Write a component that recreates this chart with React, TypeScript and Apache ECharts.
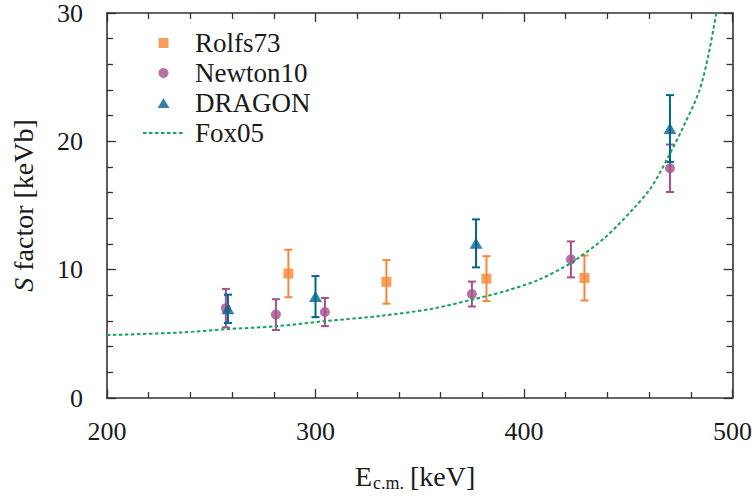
import { useEffect, useRef } from 'react';
import * as echarts from 'echarts';

// Data
const rolfsE = [287, 334, 382, 429];
const rolfsS = [9.7, 9.05, 9.3, 9.35];
const rolfsErr = [1.85, 1.7, 1.75, 1.75];

const newtonE = [257, 281, 304.5, 375, 422.5, 470];
const newtonS = [7.0, 6.5, 6.7, 8.1, 10.8, 17.9];
const newtonErr = [1.5, 1.2, 1.1, 0.97, 1.4, 1.85];

const dragonE = [258, 300, 377, 470];
const dragonS = [6.95, 7.9, 12.05, 21.0];
const dragonErr = [1.1, 1.6, 1.87, 2.6];

const foxE = [200, 235, 257, 281, 305, 331, 356, 375, 391, 407, 423, 439, 453, 461, 469, 477, 484, 488.5, 492.2];
const foxS = [4.9, 5.1, 5.36, 5.59, 6.0, 6.39, 6.96, 7.66, 8.33, 9.21, 10.58, 12.52, 14.85, 16.4, 18.73, 21.33, 23.9, 26.76, 30];

const seriesNames = ['Rolfs73', 'Newton10', 'DRAGON', 'Fox05'];
const xRange = [200, 500];
const yRange = [0, 30];

const ORANGE = '#f58737';
const PURPLE = '#a4508b';
const BLUE = '#006491';
const GREEN = '#19a05f';
const AXIS = '#333333';
const TEXT = '#1a1a1a';
const FONT = "'Liberation Serif', 'DejaVu Serif', serif";

function errRows(xs: number[], ys: number[], es: number[]) {
  return xs.map((x, i) => [x, ys[i], es[i]]);
}
function pts(xs: number[], ys: number[]) {
  return xs.map((x, i) => [x, ys[i]]);
}

function serifRich(size: number, extra: any = {}) {
  return { n: { fontSize: size, fontFamily: FONT, color: TEXT, ...extra } };
}

function errorSeries(name: string, data: number[][], color: string) {
  return {
    type: 'custom',
    name: name + ' err',
    xAxisIndex: 0,
    yAxisIndex: 0,
    encode: { x: 0, y: 1 },
    data,
    z: 2,
    renderItem: (_params: any, api: any) => {
      const x = api.value(0);
      const y = api.value(1);
      const e = api.value(2);
      const top = api.coord([x, y + e]);
      const bot = api.coord([x, y - e]);
      const hw = 4;
      const style = { stroke: color, lineWidth: 2 };
      return {
        type: 'group',
        children: [
          { type: 'line', shape: { x1: top[0], y1: top[1], x2: bot[0], y2: bot[1] }, style },
          { type: 'line', shape: { x1: top[0] - hw, y1: top[1], x2: top[0] + hw, y2: top[1] }, style },
          { type: 'line', shape: { x1: bot[0] - hw, y1: bot[1], x2: bot[0] + hw, y2: bot[1] }, style },
        ],
      };
    },
  };
}

function makeXAxis(position: 'bottom' | 'top', labels: boolean) {
  return {
    type: 'value',
    position,
    min: xRange[0],
    max: xRange[1],
    interval: 100,
    axisLine: { show: true, onZero: false, lineStyle: { color: AXIS, width: 1.6 } },
    axisTick: { show: true, inside: true, length: 9, lineStyle: { color: AXIS, width: 1.3 } },
    minorTick: { show: true, splitNumber: 5, length: 6, lineStyle: { color: AXIS, width: 1.3 } },
    splitLine: { show: false },
    minorSplitLine: { show: false },
    axisLabel: {
      show: labels,
      fontSize: 26,
      fontFamily: FONT,
      color: TEXT,
      margin: 20,
      formatter: (v: number) => '{n|' + v + '}',
      rich: serifRich(26),
    },
  };
}

function makeYAxis(position: 'left' | 'right', labels: boolean) {
  return {
    type: 'value',
    position,
    min: yRange[0],
    max: yRange[1],
    interval: 10,
    axisLine: { show: true, onZero: false, lineStyle: { color: AXIS, width: 1.6 } },
    axisTick: { show: true, inside: true, length: 9, lineStyle: { color: AXIS, width: 1.3 } },
    minorTick: { show: true, splitNumber: 5, length: 6, lineStyle: { color: AXIS, width: 1.3 } },
    splitLine: { show: false },
    minorSplitLine: { show: false },
    axisLabel: {
      show: labels,
      fontSize: 26,
      fontFamily: FONT,
      color: TEXT,
      margin: 24,
      formatter: (v: number) => '{n|' + v + '}',
      rich: serifRich(26),
    },
    ...(labels
      ? {
          name: '{i|S}{n| factor [keVb]}',
          nameLocation: 'middle',
          nameGap: 70,
          nameRotate: 90,
          nameTextStyle: {
            fontSize: 28,
            fontFamily: FONT,
            color: TEXT,
            rich: {
              i: { fontStyle: 'italic', fontSize: 28, fontFamily: FONT, color: TEXT },
              n: { fontSize: 28, fontFamily: FONT, color: TEXT },
            },
          },
        }
      : {}),
  };
}

export default function App() {
  const ref = useRef<HTMLDivElement>(null);

  useEffect(() => {
    if (!ref.current) return;
    const chart = echarts.init(ref.current, undefined, { renderer: 'svg' });
    const option: any = {
      animation: false,
      backgroundColor: '#ffffff',
      textStyle: { fontFamily: FONT },
      grid: { left: 107, right: 21, top: 11.7, bottom: 100, containLabel: false },
      xAxis: [makeXAxis('bottom', true), makeXAxis('top', false)],
      yAxis: [makeYAxis('left', true), makeYAxis('right', false)],
      legend: {
        show: true,
        orient: 'vertical',
        left: 137,
        top: 23,
        itemWidth: 41,
        itemHeight: 10,
        itemGap: 0,
        selectedMode: false,
        formatter: (name: string) => '{n|' + name + '}',
        textStyle: {
          fontSize: 27,
          fontFamily: FONT,
          color: TEXT,
          lineHeight: 30,
          padding: [0, 0, 0, 6],
          rich: serifRich(27, { lineHeight: 30 }),
        },
        data: [
          { name: seriesNames[0], icon: 'path://M0,0H10V10H0Z' },
          { name: seriesNames[1], icon: 'circle' },
          { name: seriesNames[2], icon: 'path://M6.5,0L13,11H0Z' },
          { name: seriesNames[3], itemStyle: { opacity: 0 } },
        ],
      },
      series: [
        errorSeries(seriesNames[0], errRows(rolfsE, rolfsS, rolfsErr), ORANGE),
        {
          type: 'scatter',
          name: seriesNames[0],
          data: pts(rolfsE, rolfsS),
          symbol: 'rect',
          symbolSize: 10,
          itemStyle: { color: ORANGE },
          z: 3,
        },
        errorSeries(seriesNames[1], errRows(newtonE, newtonS, newtonErr), PURPLE),
        {
          type: 'scatter',
          name: seriesNames[1],
          data: pts(newtonE, newtonS),
          symbol: 'circle',
          symbolSize: 10,
          itemStyle: { color: PURPLE },
          z: 3,
        },
        errorSeries(seriesNames[2], errRows(dragonE, dragonS, dragonErr), BLUE),
        {
          type: 'scatter',
          name: seriesNames[2],
          data: pts(dragonE, dragonS),
          symbol: 'triangle',
          symbolSize: [13, 11],
          itemStyle: { color: BLUE },
          z: 3,
        },
        {
          type: 'line',
          name: seriesNames[3],
          data: pts(foxE, foxS),
          smooth: 0.3,
          symbol: 'none',
          showSymbol: false,
          clip: true,
          lineStyle: { color: GREEN, width: 2, type: [3.5, 2.5] },
          itemStyle: { color: GREEN },
          z: 4,
        },
      ],
      graphic: [
        {
          type: 'text',
          left: 355,
          top: 462,
          style: { text: 'E', fontSize: 28, fontFamily: FONT, fill: TEXT },
        },
        {
          type: 'text',
          left: 373,
          top: 474,
          style: { text: 'c.m.', fontSize: 18, fontFamily: FONT, fill: TEXT },
        },
        {
          type: 'text',
          left: 410,
          top: 462,
          style: { text: '[keV]', fontSize: 28, fontFamily: FONT, fill: TEXT },
        },
      ],
    };
    chart.setOption(option);
    return () => {
      chart.dispose();
    };
  }, []);

  return (
    <div
      ref={ref}
      style={{ position: 'fixed', left: 0, top: 0, width: 755, height: 498, background: '#fff' }}
    />
  );
}
